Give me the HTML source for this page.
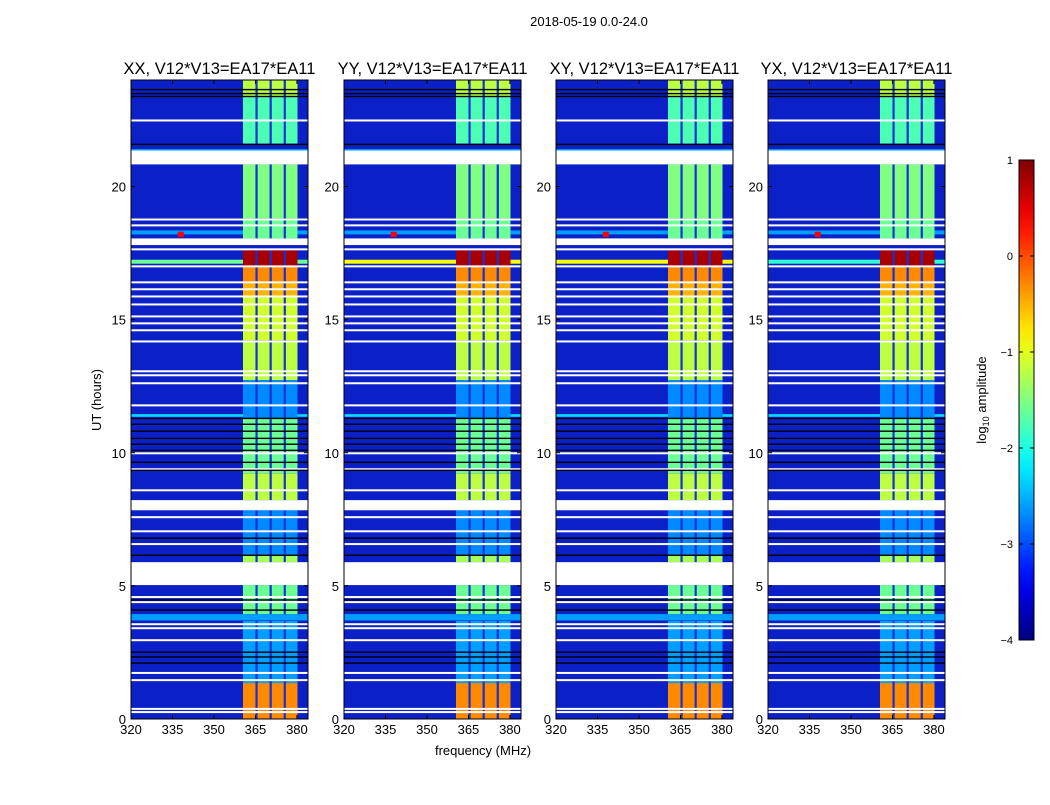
<!DOCTYPE html>
<html><head><meta charset="utf-8">
<style>
body{margin:0;background:#fff;font-family:"Liberation Sans",sans-serif;}
svg text{font-family:"Liberation Sans",sans-serif;}
</style></head>
<body>
<svg id="fig" width="1050" height="800" xmlns="http://www.w3.org/2000/svg">
<rect width="1050" height="800" fill="#fff"/>
<text x="589" y="26" font-size="13" text-anchor="middle">2018-05-19 0.0-24.0</text>
<text x="101" y="400" font-size="13" text-anchor="middle" transform="rotate(-90 101 400)">UT (hours)</text>
<text x="483" y="755" font-size="13" text-anchor="middle">frequency (MHz)</text>
</svg>
<script>
// ---- data ----
const panelTitles = ["XX, V12*V13=EA17*EA11","YY, V12*V13=EA17*EA11","XY, V12*V13=EA17*EA11","YX, V12*V13=EA17*EA11"];
const xTicks = [320,335,350,365,380];
const yTicks = [0,5,10,15,20];
const cbTicks = [-4,-3,-2,-1,0,1];
const subbands = [[360.5,365.0],[365.8,370.1],[370.9,375.2],[376,380.2]];
// band segments: [t0, t1, log10 amplitude]
const bandSegs = [[23.38,24,-1.2],[21.61,23.38,-1.75],[18.8,20.83,-1.5],[18.05,18.8,-1.6],[17.0,17.6,0.8],[16.4,17.0,-0.3],[15.87,16.4,-0.5],[14.22,15.87,-1.1],[12.72,14.22,-1.2],[11.29,12.72,-2.7],[9.23,11.29,-1.6],[8.22,9.23,-1.2],[6.15,7.84,-2.7],[5.89,6.15,-1.3],[3.94,5.03,-1.6],[1.35,3.68,-2.6],[0,1.35,-0.3]];
const whiteGaps = [[20.83,21.35],[17.8,18.05],[7.84,8.22],[5.03,5.89]];
const whiteLines = [22.48,18.76,18.54,17.64,17.0,16.4,16.14,15.87,15.57,15.12,14.86,14.6,14.18,13.06,12.91,12.61,11.78,9.98,9.38,8.59,7.58,7.05,6.57,4.58,4.39,3.56,3.41,2.96,1.73,1.46,0.38,0.26];
const blackLines = [23.64,23.49,23.38,21.58,11.29,11.07,10.81,10.54,10.32,10.09,9.64,9.34,6.79,6.15,4.47,4.09,2.51,2.33,2.10];
const strips = [[3.7,3.94,-2.6],[11.35,11.45,-2.3],[21.3,21.4,-2.5],[18.2,18.35,-2.6]];
const stripLevel1712 = [-1.6,-0.9,-0.9,-1.9];
const panelX = [131,344,556,768];

// ---- helpers ----
const NS="http://www.w3.org/2000/svg";
const svg=document.getElementById('fig');
function mk(tag,attrs,parent){const e=document.createElementNS(NS,tag);for(const k in attrs)e.setAttribute(k,attrs[k]);(parent||svg).appendChild(e);return e;}
function jet(v){const n=Math.max(0,Math.min(1,(v+4)/5));const c=x=>Math.round(255*Math.max(0,Math.min(1,1.5-Math.abs(4*n-x))));return `rgb(${c(3)},${c(2)},${c(1)})`;}
const W=177, yTop=80, yBot=719;
const ys=t=>yBot-(t/24)*(yBot-yTop);
const BG="rgb(12,32,200)";
const GAP="rgb(20,50,215)";

panelX.forEach((px,pi)=>{
  const xs=f=>px+(f-320)*(W/64);
  const g=mk('g',{});
  
  
  const bg=mk('rect',{x:px,y:yTop,width:W,height:yBot-yTop,fill:BG},g);
  
  
  strips.forEach(s=>{mk('rect',{x:px,y:ys(s[1]),width:W,height:ys(s[0])-ys(s[1]),fill:jet(s[2])},g);});
  mk('rect',{x:px,y:ys(17.25),width:W,height:ys(17.1)-ys(17.25),fill:jet(stripLevel1712[pi])},g);
  mk('rect',{x:xs(338)-3,y:ys(18.3),width:6,height:ys(18.1)-ys(18.3),fill:jet(0.4)},g);
  bandSegs.forEach(s=>{
    mk('rect',{x:xs(360.5),y:ys(s[1]),width:xs(380.2)-xs(360.5),height:ys(s[0])-ys(s[1]),fill:GAP},g);
    subbands.forEach(sb=>{
      const r=mk('rect',{x:xs(sb[0]),y:ys(s[1]),width:xs(sb[1])-xs(sb[0]),height:ys(s[0])-ys(s[1]),fill:jet(s[2])},g);
      
      
    });
  });
  whiteGaps.forEach(w=>{mk('rect',{x:px,y:ys(w[1]),width:W,height:ys(w[0])-ys(w[1]),fill:'#fff'},g);});
  whiteLines.forEach(t=>{mk('rect',{x:px,y:ys(t)-1,width:W,height:2,fill:'#fff'},g);});
  blackLines.forEach(t=>{mk('rect',{x:px,y:ys(t)-0.7,width:W,height:1.4,fill:'#000'},g);});
  const fr=mk('rect',{x:px,y:yTop,width:W,height:yBot-yTop,fill:'none',stroke:'#000','stroke-width':1},g);
  
  
  const tt=mk('text',{x:px+W/2,y:74,'font-size':16.5,'text-anchor':'middle'},g);
  tt.textContent=panelTitles[pi];
  
  
  xTicks.forEach(f=>{
    mk('line',{x1:xs(f),x2:xs(f),y1:yBot,y2:yBot-4,stroke:'#000'},g);
    mk('line',{x1:xs(f),x2:xs(f),y1:yTop,y2:yTop+4,stroke:'#000'},g);
    const l=mk('text',{x:xs(f),y:yBot+15,'font-size':13,'text-anchor':'middle'},g);
    l.textContent=f;
    
    
  });
  yTicks.forEach(t=>{
    mk('line',{x1:px,x2:px+4,y1:ys(t),y2:ys(t),stroke:'#000'},g);
    mk('line',{x1:px+W,x2:px+W-4,y1:ys(t),y2:ys(t),stroke:'#000'},g);
    const l=mk('text',{x:px-5,y:ys(t)+5,'font-size':13,'text-anchor':'end'},g);
    l.textContent=t;
    
    
  });
});

// colorbar
const cbX=1019,cbW=15,cbTop=160,cbBot=640;
const defs=mk('defs',{});
const grad=mk('linearGradient',{id:'jetg',x1:0,y1:1,x2:0,y2:0},defs);
for(let i=0;i<=20;i++){const v=-4+5*i/20;mk('stop',{offset:i/20,'stop-color':jet(v)},grad);}
const cb=mk('rect',{x:cbX,y:cbTop,width:cbW,height:cbBot-cbTop,fill:'url(#jetg)',stroke:'#000'});


cbTicks.forEach(v=>{
  const y=cbBot-(v+4)/5*(cbBot-cbTop);
  mk('line',{x1:cbX,x2:cbX+4,y1:y,y2:y,stroke:'#000'});
  mk('line',{x1:cbX+cbW,x2:cbX+cbW-4,y1:y,y2:y,stroke:'#000'});
  const l=mk('text',{x:1013,y:y+4,'font-size':11,'text-anchor':'end'});
  l.textContent=v<0?'\u2212'+Math.abs(v):String(v);
  
  
});
const cl=mk('text',{x:986,y:400,'font-size':13,'text-anchor':'middle',transform:'rotate(-90 986 400)'});
cl.innerHTML='log<tspan font-size="9" dy="3">10</tspan><tspan dy="-3"> amplitude</tspan>';


</script>
</body></html>
